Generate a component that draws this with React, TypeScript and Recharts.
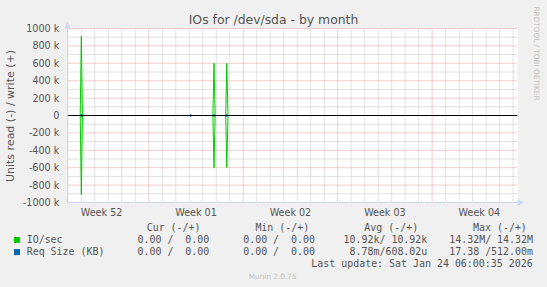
import React from 'react';
import { ComposedChart, Line, XAxis, YAxis, ReferenceLine, ReferenceArea } from 'recharts';

// ---- data (x = days relative to Mon 29 Dec 2025 00:00, start of Week 01) ----
const xDomain = [-6.025, 27.325];
const yDomain = [-1000000, 1000000];

const ioDays = [-6.025, -5.083, -5.0, -4.917, 4.75, 4.833, 4.917, 5.7, 5.783, 5.867, 27.325];
const ioWrite = [0, 0, 910000, 0, 0, 600000, 0, 0, 600000, 0, 0];
const ioRead = [0, 0, -910000, 0, 0, -600000, 0, 0, -600000, 0, 0];

const reqDays = [-5.04, -4.96, 3.07, 3.15, 4.79, 4.87, 5.74, 5.82];
const reqRead = [-0.51, -0.51, -17.38, -17.38, -0.51, -0.51, -0.51, -0.51];

const weekLabelDays = [-3.5, 3.5, 10.5, 17.5, 24.5];
const weekLabels = ['Week 52', 'Week 01', 'Week 02', 'Week 03', 'Week 04'];

const yTicks = [-1000000, -800000, -600000, -400000, -200000, 0, 200000, 400000, 600000, 800000, 1000000];
const yMinor = [-900000, -700000, -500000, -300000, -100000, 100000, 300000, 500000, 700000, 900000];
const dayMajor = [0, 7, 14, 21];
const dayMinor = [-6, -5, -4, -3, -2, -1, 1, 2, 3, 4, 5, 6, 8, 9, 10, 11, 12, 13, 15, 16, 17, 18, 19, 20, 22, 23, 24, 25, 26, 27];

const legendNames = ['IO/sec', 'Req Size (KB)'];
const legendColors = ['#00cc00', '#0066b3'];
const curVals = ['0.00 /  0.00', '0.00 /  0.00'];
const minVals = ['0.00 /  0.00', '0.00 /  0.00'];
const avgVals = ['10.92k/ 10.92k', '8.78m/608.02u'];
const maxVals = ['14.32M/ 14.32M', '17.38 /512.00m'];
const headers = ['Cur (-/+)', 'Min (-/+)', 'Avg (-/+)', 'Max (-/+)'];

const ioData = ioDays.map((d, i) => ({ day: d, write: ioWrite[i], read: ioRead[i] }));
const reqSegments: { day: number; read: number }[][] = [];
for (let i = 0; i < reqDays.length; i += 2) {
  reqSegments.push([
    { day: reqDays[i], read: reqRead[i] },
    { day: reqDays[i + 1], read: reqRead[i + 1] },
  ]);
}
const zeroAxis = [
  { day: xDomain[0], zero: 0 },
  { day: xDomain[1], zero: 0 },
];

const FONT = '"DejaVu Sans", sans-serif';
const MONO = '"DejaVu Sans Mono", monospace';
const TXT = '#555555';
const AXIS = '#cfd6f8';
const MINOR = '#c4c4c4';
const MAJOR = '#eb9f9f';

const fmtY = (v: number) => (v === 0 ? '0' : `${v / 1000} k`);

const YTick = (props: any) => {
  const { x, y, payload } = props;
  return (
    <text x={x - 8.2} y={y + 3.5} textAnchor="end" fontFamily={FONT} fontSize={9.6} fill={TXT}>
      {fmtY(payload.value)}
    </text>
  );
};

const XTick = (props: any) => {
  const { x, y, index } = props;
  return (
    <text x={x} y={y + 13.5} textAnchor="middle" fontFamily={FONT} fontSize={9.6} fill={TXT}>
      {weekLabels[index] ?? ''}
    </text>
  );
};

export default function App() {
  const colStart = [146.7, 255.4, 364.3, 473];
  const rowBase = [243.3, 255.4];
  return (
    <div style={{ position: 'absolute', left: 0, top: 0, width: 547, height: 287, background: '#f0f0f0', overflow: 'hidden' }}>
      <div style={{ position: 'absolute', left: 0, top: 0 }}>
        <ComposedChart width={547} height={287} data={ioData} margin={{ top: 28.5, right: 29.5, bottom: 64.5, left: 0 }}>
          <XAxis
            type="number"
            dataKey="day"
            domain={xDomain}
            allowDataOverflow
            ticks={weekLabelDays}
            interval={0}
            height={20}
            tickSize={0}
            tickMargin={0}
            tickLine={false}
            axisLine={{ stroke: AXIS }}
            tick={<XTick />}
          />
          <YAxis
            type="number"
            domain={yDomain}
            allowDataOverflow
            ticks={yTicks}
            interval={0}
            width={67.5}
            tickSize={0}
            tickMargin={0}
            tickLine={false}
            axisLine={{ stroke: AXIS }}
            tick={<YTick />}
          />
          <ReferenceArea x1={xDomain[0]} x2={xDomain[1]} y1={yDomain[0]} y2={yDomain[1]} fill="#ffffff" fillOpacity={1} stroke="none" ifOverflow="visible" />
          {yMinor.map((v) => (
            <ReferenceLine key={'ym' + v} y={v} stroke={MINOR} strokeDasharray="1 1" ifOverflow="visible" />
          ))}
          {dayMinor.map((v) => (
            <ReferenceLine key={'xm' + v} x={v} stroke={MINOR} strokeDasharray="1 1" ifOverflow="visible" />
          ))}
          {yTicks.map((v) => (
            <ReferenceLine key={'yM' + v} y={v} stroke={MAJOR} strokeDasharray="1 1" ifOverflow="visible" />
          ))}
          {dayMajor.map((v) => (
            <ReferenceLine key={'xM' + v} x={v} stroke={MAJOR} strokeDasharray="1 1" ifOverflow="visible" />
          ))}
          <Line data={ioData} dataKey="write" stroke="#00cc00" strokeWidth={1} dot={false} isAnimationActive={false} />
          <Line data={ioData} dataKey="read" stroke="#00cc00" strokeWidth={1} dot={false} isAnimationActive={false} />
          {reqSegments.map((seg, i) => (
            <Line key={'req' + i} data={seg} dataKey="read" stroke="#0066b3" strokeWidth={3} dot={false} isAnimationActive={false} />
          ))}
          <Line data={zeroAxis} dataKey="zero" stroke="#000000" strokeWidth={1} dot={false} isAnimationActive={false} />
        </ComposedChart>
      </div>
      <svg width={547} height={287} style={{ position: 'absolute', left: 0, top: 0, pointerEvents: 'none' }}>
        <polygon points="64.5,28.5 70.5,28.5 67.5,21.5" fill={AXIS} />
        <polygon points="517.5,199.5 517.5,205.5 524.5,202.5" fill={AXIS} />
        <text x={273.5} y={24} textAnchor="middle" fontFamily={FONT} fontSize={12.4} fill={TXT}>
          IOs for /dev/sda - by month
        </text>
        <text x={14.3} y={116} transform="rotate(-90 14.3 116)" textAnchor="middle" fontFamily={FONT} fontSize={11} fill={TXT}>
          Units read (-) / write (+)
        </text>
        <text x={534} y={53.5} transform="rotate(90 534 53.5)" textAnchor="middle" fontFamily={FONT} fontSize={7.3} fill="#c4c4c4">
          RRDTOOL / TOBI OETIKER
        </text>
        {headers.map((h, i) => (
          <text key={h} x={colStart[i]} y={231} fontFamily={MONO} fontSize={9.95} fill={TXT} style={{ whiteSpace: 'pre' }}>
            {h}
          </text>
        ))}
        {legendNames.map((n, r) => (
          <g key={n}>
            <rect x={14} y={rowBase[r] - 6.3} width={6} height={6} fill={legendColors[r]} />
            <text x={26.7} y={rowBase[r]} fontFamily={MONO} fontSize={9.95} fill={TXT} style={{ whiteSpace: 'pre' }}>{n}</text>
            <text x={209.3} y={rowBase[r]} textAnchor="end" fontFamily={MONO} fontSize={9.95} fill={TXT} style={{ whiteSpace: 'pre' }}>{curVals[r]}</text>
            <text x={315} y={rowBase[r]} textAnchor="end" fontFamily={MONO} fontSize={9.95} fill={TXT} style={{ whiteSpace: 'pre' }}>{minVals[r]}</text>
            <text x={427.3} y={rowBase[r]} textAnchor="end" fontFamily={MONO} fontSize={9.95} fill={TXT} style={{ whiteSpace: 'pre' }}>{avgVals[r]}</text>
            <text x={533} y={rowBase[r]} textAnchor="end" fontFamily={MONO} fontSize={9.95} fill={TXT} style={{ whiteSpace: 'pre' }}>{maxVals[r]}</text>
          </g>
        ))}
        <text x={311.3} y={266.7} fontFamily={MONO} fontSize={9.95} fill={TXT} style={{ whiteSpace: 'pre' }}>
          Last update: Sat Jan 24 06:00:35 2026
        </text>
        <text x={272.7} y={279} textAnchor="middle" fontFamily={FONT} fontSize={7.3} fill="#c4c4c4">
          Munin 2.0.75
        </text>
      </svg>
    </div>
  );
}
